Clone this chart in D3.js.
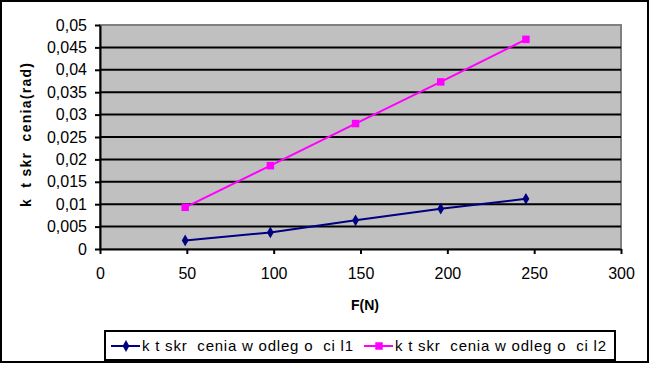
<!DOCTYPE html>
<html>
<head>
<meta charset="utf-8">
<script src="https://cdn.jsdelivr.net/npm/d3@7"></script>
<style>
	body { margin: 0; background: #fff; }
	svg text { font-family: "Liberation Sans", Arial, sans-serif; white-space: pre; }
</style>
</head>
<body>
<div id="chart"></div>
<script>
// data
var forces = [49.05, 98.1, 147.15, 196.2, 245.25];
var angleL1 = [0.0019, 0.0037, 0.0064, 0.0090, 0.0112];
var angleL2 = [0.0093, 0.0186, 0.0280, 0.0373, 0.0468];
var seriesNames = ["k t skr  cenia w odleg o  ci l1", "k t skr  cenia w odleg o  ci l2"];
var xTicks = [0, 50, 100, 150, 200, 250, 300];
var yTicks = [0, 0.005, 0.01, 0.015, 0.02, 0.025, 0.03, 0.035, 0.04, 0.045, 0.05];
var xTitle = "F(N)";
var yTitle = "k  t skr  cenia(rad)";

var width = 650, height = 365;
var plot = { left: 100, right: 621, top: 25, bottom: 249 };

var pl = d3.formatLocale({ decimal: ",", thousands: " ", grouping: [3], currency: ["", ""] });
var fmt = function(d) { return pl.format("")(+d.toFixed(4)); };

var svg = d3.select("#chart").append("svg")
	.attr("width", width)
	.attr("height", height);

// outer frame
svg.append("rect")
	.attr("x", 1).attr("y", 1)
	.attr("width", 647).attr("height", 361)
	.attr("fill", "#fff")
	.attr("stroke", "#000")
	.attr("stroke-width", 2);

var x = d3.scaleLinear().domain([0, 300]).range([plot.left, plot.right]);
var y = d3.scaleLinear().domain([0, 0.05]).range([plot.bottom, plot.top]);

// plot background
svg.append("rect")
	.attr("x", x(0)).attr("y", y(0.05))
	.attr("width", x(300) - x(0)).attr("height", y(0) - y(0.05))
	.attr("fill", "#c0c0c0")
	.attr("stroke", "#808080")
	.attr("stroke-width", 2);

// gridlines
svg.append("g").selectAll("line")
	.data(yTicks.slice(1, -1))
	.enter().append("line")
	.attr("x1", x(0)).attr("x2", x(300))
	.attr("y1", function(d) { return y(d); })
	.attr("y2", function(d) { return y(d); })
	.attr("stroke", "#000")
	.attr("stroke-width", 2);

// axes
var yAxis = svg.append("g")
	.attr("transform", "translate(" + x(0) + ",0)")
	.call(d3.axisLeft(y).tickValues(yTicks).tickFormat(fmt).tickSize(5).tickSizeOuter(0).tickPadding(8));

var xAxis = svg.append("g")
	.attr("transform", "translate(0," + y(0) + ")")
	.call(d3.axisBottom(x).tickValues(xTicks).tickFormat(fmt).tickSize(5).tickSizeOuter(0).tickPadding(14));

[yAxis, xAxis].forEach(function(a) {
	a.select(".domain").attr("stroke", "#000").attr("stroke-width", 2);
	a.selectAll(".tick line").attr("stroke", "#000").attr("stroke-width", 2);
	a.selectAll(".tick text").attr("fill", "#000").style("font-size", "16px")
		.style("font-family", "'Liberation Sans', Arial, sans-serif");
});

// titles
svg.append("text")
	.attr("x", 365)
	.attr("y", 310)
	.attr("text-anchor", "middle")
	.style("font-size", "14px")
	.style("font-weight", "bold")
	.text(xTitle);

svg.append("text")
	.attr("transform", "translate(31,135) rotate(-90)")
	.attr("text-anchor", "middle")
	.attr("textLength", 144)
	.attr("lengthAdjust", "spacing")
	.style("font-size", "14px")
	.style("font-weight", "bold")
	.text(yTitle);

// series
var line = d3.line()
	.x(function(d) { return x(d[0]); })
	.y(function(d) { return y(d[1]); });

var series = [
	{ values: d3.zip(forces, angleL1), color: "#000080", symbol: d3.symbolDiamond, size: 40 },
	{ values: d3.zip(forces, angleL2), color: "#ff00ff", symbol: d3.symbolSquare, size: 56 }
];

series.forEach(function(s) {
	svg.append("path")
		.attr("d", line(s.values))
		.attr("fill", "none")
		.attr("stroke", s.color)
		.attr("stroke-width", 2);
	svg.append("g").selectAll("path")
		.data(s.values)
		.enter().append("path")
		.attr("transform", function(d) { return "translate(" + x(d[0]) + "," + y(d[1]) + ")"; })
		.attr("d", d3.symbol().type(s.symbol).size(s.size))
		.attr("fill", s.color);
});

// legend
var legend = svg.append("g");
legend.append("rect")
	.attr("x", 105).attr("y", 331)
	.attr("width", 510).attr("height", 29)
	.attr("fill", "#fff")
	.attr("stroke", "#000")
	.attr("stroke-width", 2);

var legendX = [111, 364];
series.forEach(function(s, i) {
	var lx = legendX[i], ly = 346;
	legend.append("line")
		.attr("x1", lx).attr("x2", lx + 29)
		.attr("y1", ly).attr("y2", ly)
		.attr("stroke", s.color).attr("stroke-width", 2);
	legend.append("path")
		.attr("transform", "translate(" + (lx + 15) + "," + ly + ")")
		.attr("d", d3.symbol().type(s.symbol).size(s.size))
		.attr("fill", s.color);
	legend.append("text")
		.attr("x", lx + 31)
		.attr("y", ly + 5)
		.attr("textLength", 211)
		.attr("lengthAdjust", "spacing")
		.style("font-size", "15px")
		.text(seriesNames[i]);
});
</script>
</body>
</html>
